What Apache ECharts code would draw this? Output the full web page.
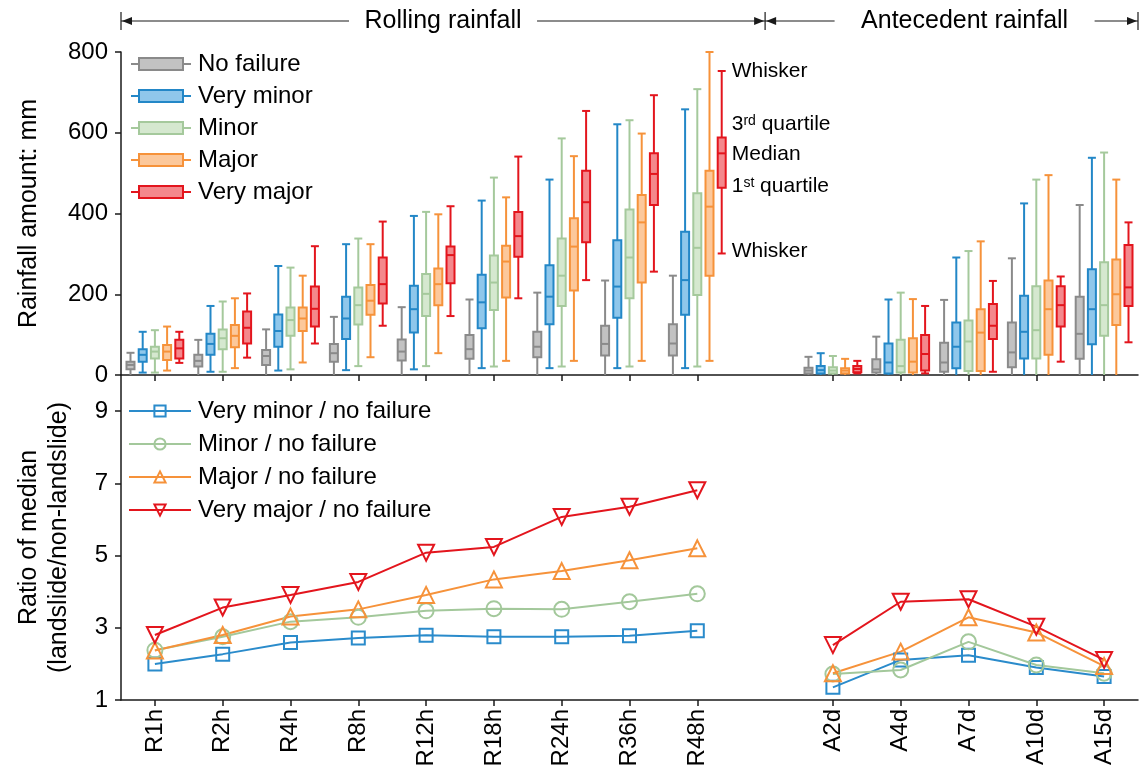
<!DOCTYPE html>
<html><head><meta charset="utf-8">
<script src="https://cdn.jsdelivr.net/npm/echarts@6/dist/echarts.min.js"></script>
<style>html,body{margin:0;padding:0;background:#fff}#c{width:1146px;height:784px}</style>
</head><body><div id="c"></div>
<script>
// ---------------- DATA ----------------
const categories = ['R1h','R2h','R4h','R8h','R12h','R18h','R24h','R36h','R48h','','A2d','A4d','A7d','A10d','A15d'];
const boxSeriesNames = ['No failure','Very minor','Minor','Major','Very major'];
// each entry: [min, Q1, median, Q3, max] (mm); null = empty gap category
const noFailure = [[0,14,25,33,55],[0,21,35,50,87],[0,25,47,62,113],[0,33,54,77,144],[0,36,58,88,168],[0,40,64,99,187],[0,44,70,107,204],[0,48,77,122,234],[0,48,78,126,246],null,[0,4,11,18,45],[0,6,14,39,95],[0,8,31,80,186],[0,19,56,130,289],[0,40,102,194,421]];
const veryMinor = [[6,33,50,64,107],[8,50,77,102,171],[11,70,109,150,270],[12,89,140,194,324],[14,105,163,221,394],[17,116,180,248,432],[17,126,194,272,484],[17,142,219,334,621],[17,149,235,355,658],null,[0,4,12,22,54],[0,4,31,78,187],[0,17,70,130,291],[0,41,107,196,425],[0,76,163,262,538]];
const minor = [[6,41,58,70,111],[8,64,91,113,182],[14,97,136,167,266],[22,125,173,217,338],[22,146,201,250,404],[21,161,229,296,489],[21,171,246,338,586],[21,190,291,410,631],[21,198,315,450,708],null,[0,4,11,19,47],[0,6,22,87,204],[0,10,83,135,307],[0,41,111,220,484],[0,97,173,279,551]];
const major = [[11,37,58,74,120],[17,69,97,124,190],[31,109,140,167,246],[44,149,184,223,324],[54,173,225,264,398],[35,192,281,320,440],[35,209,318,388,542],[35,229,378,446,598],[35,246,417,506,800],null,[0,4,11,17,40],[0,6,33,91,188],[0,10,105,163,331],[0,50,163,234,495],[0,124,200,286,484]];
const veryMajor = [[30,41,66,87,107],[43,78,117,157,202],[78,120,164,219,319],[122,177,225,291,380],[146,227,297,318,418],[190,293,344,404,541],[235,329,428,506,654],[256,421,498,549,693],[301,464,549,588,753],null,[4,7,15,22,35],[4,11,52,99,171],[8,89,122,176,233],[33,120,173,220,244],[81,171,217,322,378]];

const ratioNames = ['Very minor / no failure','Minor / no failure','Major / no failure','Very major / no failure'];
const veryMinorRatio = [2.00,2.27,2.59,2.72,2.79,2.75,2.75,2.78,2.92,null,1.35,2.11,2.24,1.90,1.65];
const minorRatio     = [2.38,2.75,3.17,3.29,3.47,3.53,3.51,3.72,3.94,null,1.72,1.83,2.61,1.97,1.74];
const majorRatio     = [2.37,2.80,3.31,3.51,3.91,4.34,4.57,4.87,5.20,null,1.74,2.34,3.29,2.87,1.94];
const veryMajorRatio = [2.80,3.56,3.91,4.27,5.08,5.24,6.07,6.35,6.81,null,2.52,3.72,3.79,3.03,2.11];

const topAxisTicks = [0, 800, 200];   // min, max, interval
const bottomAxisTicks = [1, 10, 2];

// ---------------- STYLE ----------------
const FONT = "'Liberation Sans', Arial, sans-serif";
const FS = 24;
const strokeCols = ['#8a8a8a','#2387c7','#a5c99c','#f6923a','#e3151d'];
const fillCols   = ['#c2c2c2','#8fc7eb','#d5e8cf','#fcc89b','#f4888c'];
const lineCols   = ['#2a8bcb','#a3c89b','#f6923a','#e3151d'];

const chart = echarts.init(document.getElementById('c'), null, {renderer: 'canvas'});

function boxRender(k, stroke, fill) {
  return function (params, api) {
    const xi = api.value(0);
    const band = api.size([1, 0])[0];
    const off = (k - 2) * band * 0.18;
    const w = band * 0.118;
    const p = [1,2,3,4,5].map(j => api.coord([xi, api.value(j)]));
    const cx = p[0][0] + off;
    const yMin = p[0][1], yQ1 = p[1][1], yMed = p[2][1], yQ3 = p[3][1], yMax = p[4][1];
    const ls = {stroke: stroke, lineWidth: 2, fill: null};
    const children = [
      {type:'line', shape:{x1:cx,y1:yMax,x2:cx,y2:yQ3}, style: ls},
      {type:'line', shape:{x1:cx,y1:yQ1,x2:cx,y2:yMin}, style: ls},
      {type:'line', shape:{x1:cx-w/2,y1:yMax,x2:cx+w/2,y2:yMax}, style: ls},
      {type:'rect', shape:{x:cx-w/2,y:yQ3,width:w,height:yQ1-yQ3}, style:{fill: fill, stroke: stroke, lineWidth: 2}},
      {type:'line', shape:{x1:cx-w/2,y1:yMed,x2:cx+w/2,y2:yMed}, style: ls}
    ];
    if (api.value(1) > 0) {
      children.push({type:'line', shape:{x1:cx-w/2,y1:yMin,x2:cx+w/2,y2:yMin}, style: ls});
    }
    return {type: 'group', children: children};
  };
}

const boxData = [noFailure, veryMinor, minor, major, veryMajor];
const boxSeries = boxData.map((arr, k) => ({
  type: 'custom',
  name: boxSeriesNames[k],
  xAxisIndex: 0, yAxisIndex: 0,
  itemStyle: {color: fillCols[k], borderColor: strokeCols[k]},
  encode: {x: 0, y: [1,2,3,4,5]},
  data: arr.map((d, i) => d ? [i].concat(d) : null).filter(d => d),
  renderItem: boxRender(k, strokeCols[k], fillCols[k]),
  z: 3
}));

const ratioData = [veryMinorRatio, minorRatio, majorRatio, veryMajorRatio];
const symbols = ['rect','circle','triangle','triangle'];
const symRot = [0,0,0,180];
const symSize = [13,15,16,16];
const lineSeries = ratioData.map((arr, k) => ({
  type: 'line',
  name: ratioNames[k],
  xAxisIndex: 1, yAxisIndex: 1,
  data: arr,
  symbol: symbols[k], symbolRotate: symRot[k], symbolSize: symSize[k],
  showAllSymbol: true,
  lineStyle: {color: lineCols[k], width: 2},
  itemStyle: {color: 'rgba(255,255,255,0)', borderColor: lineCols[k], borderWidth: 2},
  z: 3
}));

const boxIcon = 'path://M0,6L8,6M8,0L52,0L52,12L8,12ZM52,6L60,6';

const axisLineStyle = {color: '#1a1a1a', width: 1.5};
const tickFn = (i, v) => v !== '';

const option = {
  backgroundColor: '#fff',
  animation: false,
  textStyle: {fontFamily: FONT},
  grid: [
    {left: 121, width: 1017, top: 52, height: 323},
    {left: 121, width: 1017, top: 375, height: 325}
  ],
  xAxis: [
    {type: 'category', gridIndex: 0, data: categories, boundaryGap: true,
     axisLine: {show: true, lineStyle: axisLineStyle},
     axisTick: {show: true, alignWithLabel: true, length: 6, interval: tickFn, lineStyle: axisLineStyle},
     axisLabel: {show: false}, splitLine: {show: false}},
    {type: 'category', gridIndex: 1, data: categories, boundaryGap: true,
     axisLine: {show: true, lineStyle: axisLineStyle},
     axisTick: {show: true, alignWithLabel: true, length: 6, interval: tickFn, lineStyle: axisLineStyle},
     axisLabel: {show: true, rotate: 90, interval: 0, fontSize: FS, color: '#000', fontFamily: FONT, margin: 9},
     splitLine: {show: false}}
  ],
  yAxis: [
    {type: 'value', gridIndex: 0, min: topAxisTicks[0], max: topAxisTicks[1], interval: topAxisTicks[2],
     name: 'Rainfall amount: mm', nameLocation: 'middle', nameGap: 79,
     nameTextStyle: {fontSize: 25, color: '#000', fontFamily: FONT},
     axisLine: {show: true, lineStyle: axisLineStyle},
     axisTick: {show: true, length: 6, lineStyle: axisLineStyle},
     axisLabel: {fontSize: FS, color: '#000', fontFamily: FONT, margin: 13},
     splitLine: {show: false}},
    {type: 'value', gridIndex: 1, min: bottomAxisTicks[0], max: bottomAxisTicks[1], interval: bottomAxisTicks[2],
     name: 'Ratio of median\n(landslide/non-landslide)', nameLocation: 'middle', nameGap: 47,
     nameTextStyle: {fontSize: 25, color: '#000', fontFamily: FONT, lineHeight: 30},
     axisLine: {show: true, lineStyle: axisLineStyle},
     axisTick: {show: true, length: 6, lineStyle: axisLineStyle},
     axisLabel: {fontSize: FS, color: '#000', fontFamily: FONT, margin: 13, showMaxLabel: false},
     splitLine: {show: false}}
  ],
  legend: [
    {orient: 'vertical', left: 130, top: 52, padding: 0, itemGap: 8, itemWidth: 60, itemHeight: 12,
     textStyle: {fontSize: FS, color: '#000', fontFamily: FONT, padding: [0,0,0,2]},
     data: boxSeriesNames.map((n, k) => ({name: n, icon: boxIcon,
       itemStyle: {color: fillCols[k], borderColor: strokeCols[k], borderWidth: 2}}))},
    {orient: 'vertical', left: 128, top: 399, padding: 0, itemGap: 9, itemWidth: 62, itemHeight: 14,
     textStyle: {fontSize: FS, color: '#000', fontFamily: FONT, padding: [0,0,0,2]},
     data: ratioNames}
  ],
  series: boxSeries.concat(lineSeries)
};
chart.setOption(option);

// ---------- annotations anchored to the axes ----------
const px = (i, v) => chart.convertToPixel({xAxisIndex: 0, yAxisIndex: 0}, [i, v]);
const band = px(1, 0)[0] - px(0, 0)[0];
const xL = px(0, 0)[0] - band / 2;
const xR = px(14, 0)[0] + band / 2;
const xM = px(9, 0)[0];
const yA = 21;
const black = '#1a1a1a';
function arrowHead(x, dir) {
  return {type: 'polygon', shape: {points: [[x, yA], [x + dir * 10, yA - 4], [x + dir * 10, yA + 4]]}, style: {fill: black}};
}
function vbar(x) {
  return {type: 'line', shape: {x1: x, y1: yA - 9, x2: x, y2: yA + 9}, style: {stroke: black, lineWidth: 1.2}};
}
function hline(x1, x2) {
  return {type: 'line', shape: {x1: x1, y1: yA, x2: x2, y2: yA}, style: {stroke: black, lineWidth: 1.2}};
}
const txtStyle = {fontSize: 25, fill: '#000', fontFamily: FONT};
const rollCx = (xL + xM) / 2;
const antCx = xM + (xR - xM) * 0.535;

// box annotation (next to the R48h very-major box)
const vm48 = veryMajor[8];
const annX = px(8, 0)[0] + 2 * band * 0.18 + 10;
const annTxt = [
  {t: 'Whisker', y: px(8, vm48[4])[1]},
  {t: '3{sup|rd} quartile', y: px(8, vm48[3])[1] - 13},
  {t: 'Median', y: px(8, vm48[2])[1] + 1},
  {t: '1{sup|st} quartile', y: px(8, vm48[1])[1] - 1},
  {t: 'Whisker', y: px(8, vm48[0])[1] - 2}
];

chart.setOption({
  graphic: [
    vbar(xL), vbar(xM), vbar(xR),
    hline(xL, rollCx - 94), hline(rollCx + 94, xM),
    hline(xM, antCx - 130), hline(antCx + 130, xR),
    arrowHead(xL + 1, 1), arrowHead(xM - 1, -1), arrowHead(xM + 1, 1), arrowHead(xR - 1, -1),
    {type: 'text', x: rollCx, y: yA, style: Object.assign({text: 'Rolling rainfall', align: 'center', verticalAlign: 'middle'}, txtStyle)},
    {type: 'text', x: antCx, y: yA, style: Object.assign({text: 'Antecedent rainfall', align: 'center', verticalAlign: 'middle'}, txtStyle)}
  ].concat(annTxt.map(a => ({
    type: 'text', x: annX, y: a.y,
    style: {text: a.t, align: 'left', verticalAlign: 'middle', fontSize: 21, fill: '#000', fontFamily: FONT,
      rich: {sup: {fontSize: 14, verticalAlign: 'top', fontFamily: FONT, fill: '#000', lineHeight: 14}}}
  })))
});
</script>
</body></html>
